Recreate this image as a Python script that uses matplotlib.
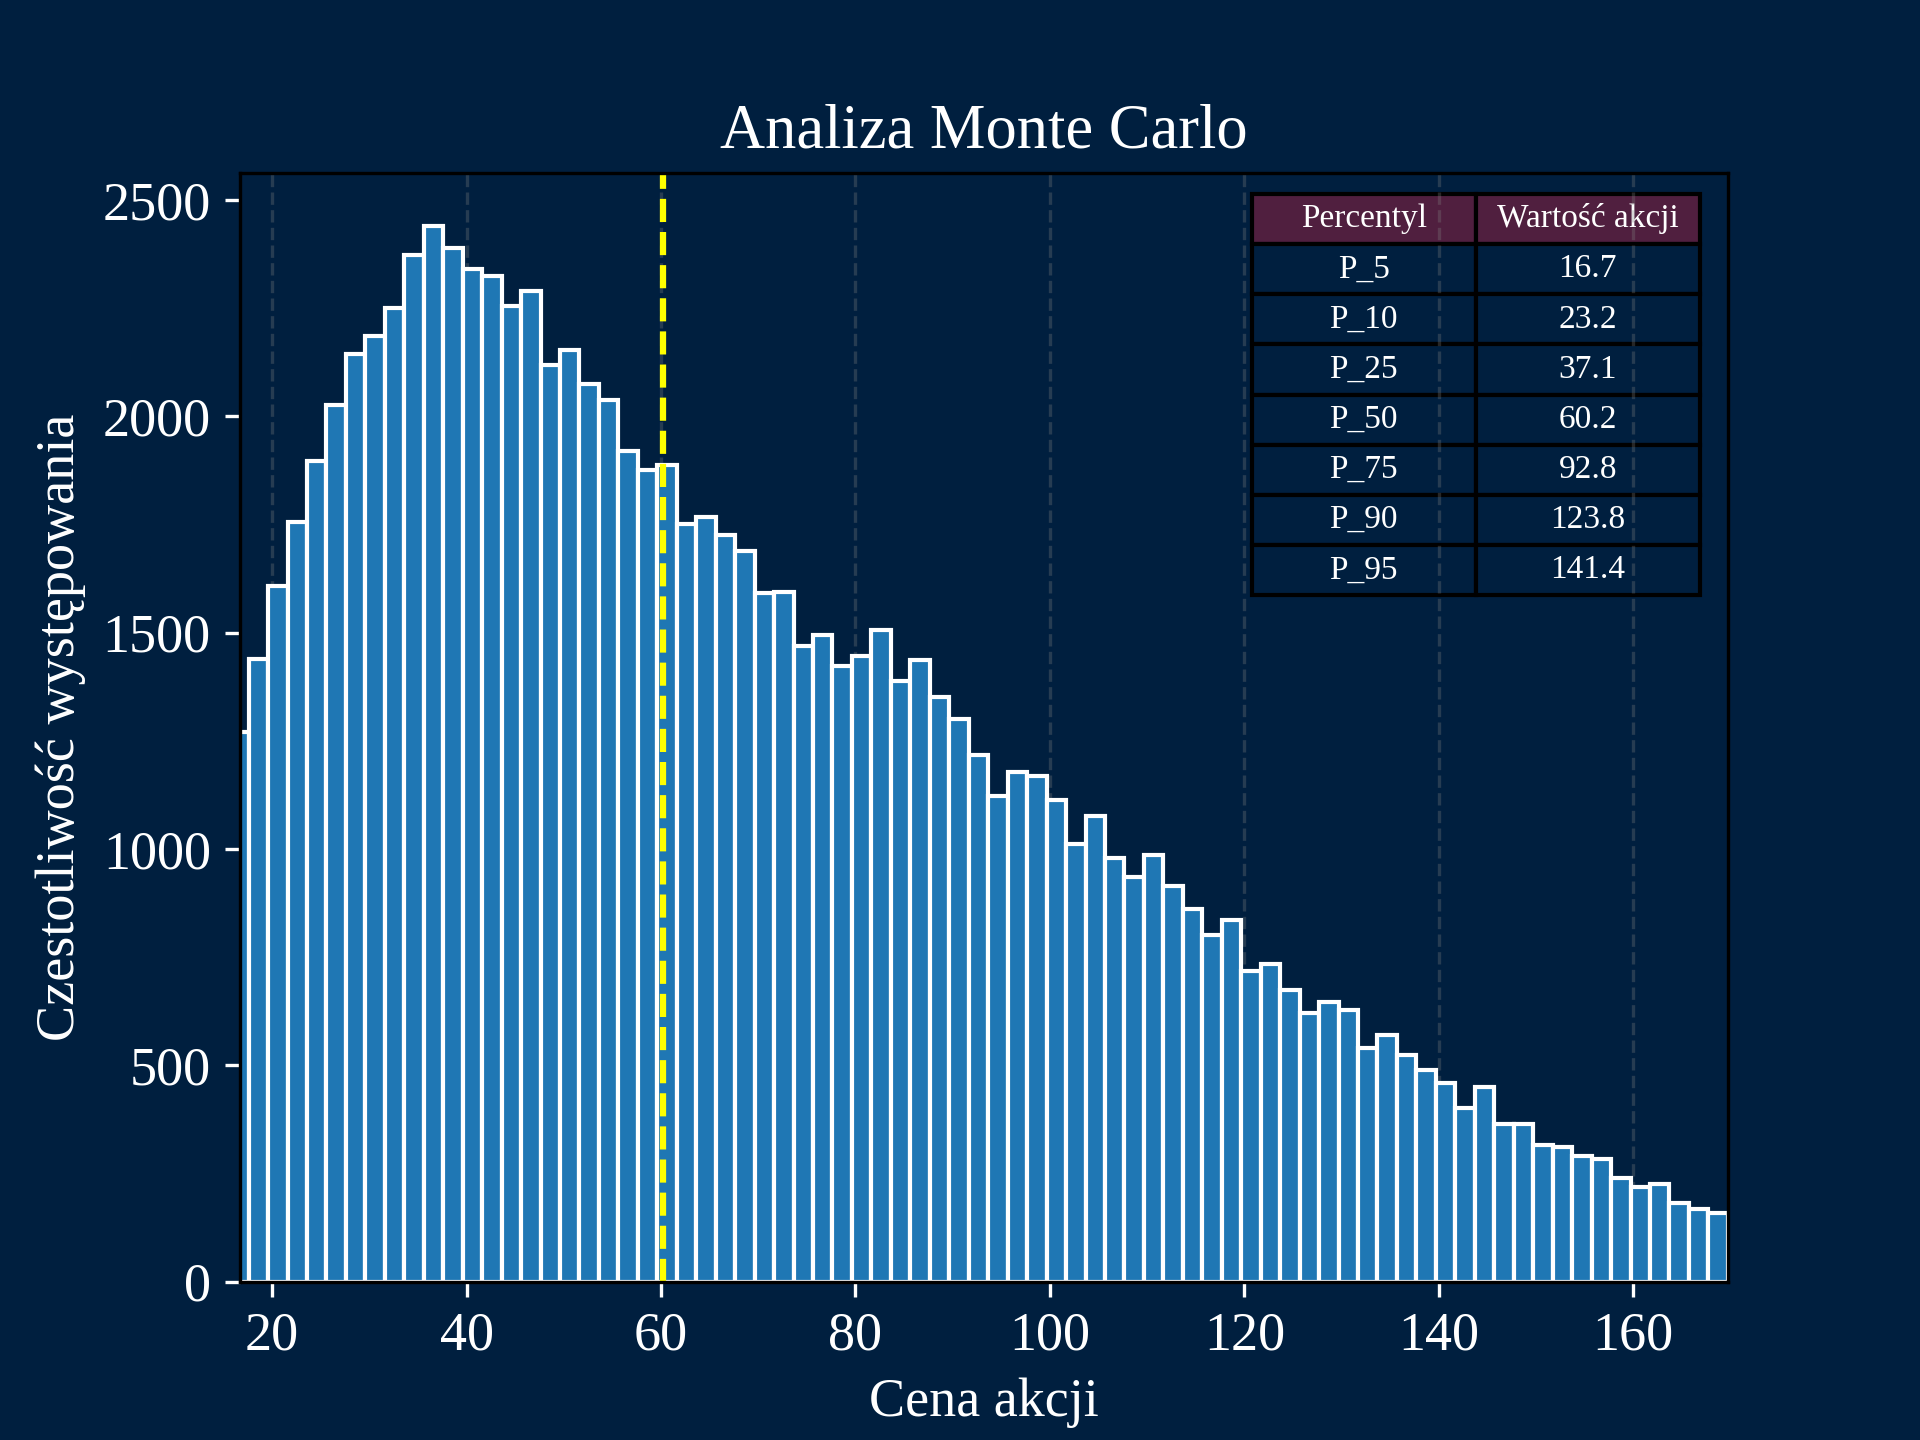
import numpy as np
import matplotlib
matplotlib.use("Agg")
import matplotlib.pyplot as plt

# ---- data ----
bin_start = 15.58
bin_width = 2.002
counts = [1270, 1440, 1607, 1757, 1897, 2027, 2144, 2185, 2251, 2372,
          2441, 2389, 2340, 2325, 2256, 2290, 2119, 2154, 2075, 2039,
          1921, 1877, 1888, 1752, 1767, 1725, 1688, 1591, 1595, 1469,
          1494, 1423, 1446, 1506, 1388, 1437, 1352, 1301, 1217, 1123,
          1178, 1169, 1114, 1012, 1077, 979, 935, 987, 915, 862,
          802, 835, 719, 734, 674, 622, 647, 627, 541, 569,
          523, 488, 458, 402, 449, 365, 365, 315, 312, 290,
          283, 239, 218, 225, 181, 167, 158]
percentile_labels = ["P_5", "P_10", "P_25", "P_50", "P_75", "P_90", "P_95"]
percentile_values = [16.7, 23.2, 37.1, 60.2, 92.8, 123.8, 141.4]
median_value = 60.2
x_limits = (16.7, 169.75)

BG = "#001f3f"
HEADER = "#501f3f"

plt.rcParams["font.family"] = ["Liberation Serif", "DejaVu Serif"]

edges = bin_start + bin_width * np.arange(len(counts) + 1)
centers = (edges[:-1] + edges[1:]) / 2

fig, ax = plt.subplots(figsize=(6.4, 4.8), dpi=300)
fig.patch.set_facecolor(BG)
ax.set_facecolor(BG)

ax.hist(centers, bins=edges, weights=counts, color="#1f77b4",
        edgecolor="white", linewidth=1.0)
ax.axvline(median_value, color="yellow", linestyle="--", linewidth=1.5)

ax.set_xlim(*x_limits)
ax.set_axisbelow(True)
ax.grid(axis="x", linestyle="--", color="gray", alpha=0.3)

ax.set_title("Analiza Monte Carlo", fontsize=15, color="white")
ax.set_xlabel("Cena akcji", fontsize=13, color="white")
ax.set_ylabel("Czestotliwość występowania", fontsize=13, color="white")
ax.tick_params(colors="white", labelsize=13)
for sp in ax.spines.values():
    sp.set_color("black")

cell_text = [[l, f"{v:.1f}"] for l, v in zip(percentile_labels, percentile_values)]
tbl = ax.table(cellText=cell_text, colLabels=["Percentyl", "Wartość akcji"],
               cellLoc="center", bbox=[0.68, 0.619, 0.301, 0.362])
tbl.auto_set_font_size(False)
tbl.set_fontsize(8)
for (r, c), cell in tbl.get_celld().items():
    cell.set_edgecolor("black")
    cell.set_linewidth(1.0)
    cell.set_facecolor(HEADER if r == 0 else BG)
    cell.get_text().set_color("white")

fig.savefig("out.png", dpi=300, facecolor=BG)
